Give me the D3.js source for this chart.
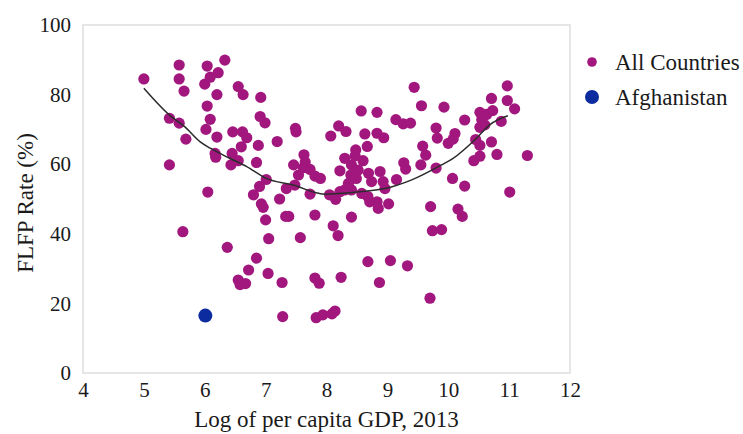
<!DOCTYPE html>
<html>
<head>
<meta charset="utf-8">
<script src="https://cdn.jsdelivr.net/npm/d3@7"></script>
<style>
html,body{margin:0;padding:0;background:#fff;}
svg{display:block;}
text{font-family:"Liberation Serif","Times New Roman",serif;fill:#1a1a1a;}
</style>
</head>
<body>
<svg id="chart" width="743" height="434"></svg>
<script>
// ---- data ----
const countriesX = [
 5.00,5.58,5.58,5.66,5.42,5.58,5.69,5.42,5.64,6.05,6.04,6.33,6.22,6.09,6.00,6.20,6.04,6.09,6.02,6.20,
 6.17,6.18,6.55,6.63,6.46,6.62,6.69,6.60,6.45,6.43,6.55,6.37,6.92,6.91,6.99,6.88,6.85,7.01,6.90,6.80,
 6.93,6.96,7.00,7.05,6.85,6.72,6.55,6.58,6.67,7.04,7.19,
 7.27,7.28,7.33,7.38,7.57,7.81,7.81,7.88,8.11,8.19,8.24,7.83,7.94,8.09,8.14,8.41,8.68,9.05,9.33,8.87,
 9.70,9.74,9.89,10.23,9.71,10.16,11.01,10.27,7.23,7.34,7.48,7.73,8.05,8.15,8.22,8.30,8.41,8.58,8.68,8.71,
 8.83,8.85,9.02,8.36,8.96,7.49,7.50,8.07,8.20,8.32,8.57,8.83,8.63,8.83,8.94,9.14,9.26,9.38,8.67,8.48,
 8.47,8.30,8.60,8.41,8.52,8.22,8.40,8.49,8.69,8.74,8.88,8.93,9.15,9.27,9.30,7.63,7.65,7.46,7.62,7.73,
 7.81,7.90,7.54,
 9.44,9.56,9.93,9.80,9.82,10.00,10.11,10.08,10.27,9.58,9.63,9.55,9.80,10.07,10.52,10.63,10.73,10.71,10.97,10.97,
 11.09,10.87,10.55,10.60,10.52,10.45,10.52,10.71,10.52,10.42,10.80,11.30
];
const countriesY = [
 84.5,88.5,84.5,81.0,73.2,71.8,67.2,59.8,40.6,52.0,88.2,89.9,86.3,85.0,83.0,80.0,76.7,72.9,70.0,67.8,
 63.1,62.0,82.3,80.0,69.3,69.3,67.6,65.0,63.1,59.8,61.0,36.1,79.2,73.7,71.9,65.4,60.5,55.6,53.6,51.2,
 48.6,47.6,44.0,38.6,33.0,29.6,26.7,25.4,25.7,28.6,66.5,
 26.0,16.2,45.0,45.0,38.9,45.4,27.3,25.8,42.3,39.5,27.5,15.9,16.7,17.0,17.8,44.8,32.0,32.3,30.8,26.0,
 21.5,40.9,41.2,45.0,47.8,47.1,52.0,53.7,50.0,53.0,54.0,51.4,51.2,49.9,52.1,52.6,52.6,51.6,50.7,49.2,
 49.2,47.3,48.6,54.5,53.0,70.3,69.3,68.1,71.0,69.4,75.3,74.9,68.7,68.9,67.6,72.8,71.6,71.8,65.1,64.1,
 62.4,61.7,61.0,59.8,58.3,58.1,56.9,55.9,57.4,55.0,57.9,55.0,55.6,60.4,58.6,62.7,60.6,59.8,59.0,58.5,
 56.6,55.9,56.9,
 82.1,76.8,76.4,70.4,67.5,66.0,68.8,67.2,72.7,65.2,62.6,59.8,58.9,55.9,74.9,74.3,75.4,78.9,82.5,78.3,
 75.9,72.3,72.8,71.3,70.6,67.1,65.4,66.4,62.3,61.0,62.8,62.5
];
const afghanX = [6.01];
const afghanY = [16.5];
const fitX = [5.0,5.42,5.67,5.92,6.09,6.41,6.69,7.0,7.45,7.97,8.5,8.96,9.4,9.89,10.08,10.46,10.68,10.98];
const fitY = [81.8,74.1,70.8,66.5,64.6,61.7,59.3,56.0,54.0,51.4,52.0,53.0,55.5,59.8,61.7,67.4,71.3,73.9];
const xTicks = [4,5,6,7,8,9,10,11,12];
const yTicks = [0,20,40,60,80,100];
const legendLabels = ["All Countries","Afghanistan"];
const colors = ["#a2177e","#0b2b9f"];

// ---- drawing ----
const svg = d3.select("#chart");
const x = d3.scaleLinear().domain([4,12]).range([83,570]);
const y = d3.scaleLinear().domain([0,100]).range([373,25]);

// plot frame
svg.append("rect")
  .attr("x", x(4)).attr("y", y(100))
  .attr("width", x(12)-x(4)).attr("height", y(0)-y(100))
  .attr("fill","none").attr("stroke","#d9d9d9").attr("stroke-width",1.3);

// axes
const xAxis = svg.append("g").attr("transform",`translate(0,${y(0)})`)
  .call(d3.axisBottom(x).tickValues(xTicks).tickSize(0).tickPadding(9).tickFormat(d3.format("d")));
const yAxis = svg.append("g").attr("transform",`translate(${x(4)},0)`)
  .call(d3.axisLeft(y).tickValues(yTicks).tickSize(0).tickPadding(12).tickFormat(d3.format("d")));
[xAxis,yAxis].forEach(a=>{
  a.select(".domain").remove();
  a.selectAll("text").attr("font-family","Liberation Serif, Times New Roman, serif")
    .attr("font-size",21).attr("fill","#1a1a1a");
});

// axis titles
svg.append("text")
  .attr("x",(x(4)+x(12))/2).attr("y",427)
  .attr("text-anchor","middle").attr("font-size",23)
  .text("Log of per capita GDP, 2013");
svg.append("text")
  .attr("transform",`translate(33,${(y(0)+y(100))/2 + 4}) rotate(-90)`)
  .attr("text-anchor","middle").attr("font-size",23)
  .text("FLFP Rate (%)");

// points
const pts = countriesX.map((d,i)=>({x:d,y:countriesY[i]}));
svg.append("g").selectAll("circle").data(pts).join("circle")
  .attr("cx",d=>x(d.x)).attr("cy",d=>y(d.y)).attr("r",5.6)
  .attr("fill",colors[0]);

// fitted curve
const fit = fitX.map((d,i)=>[d,fitY[i]]);
svg.append("path").datum(fit)
  .attr("d", d3.line().x(d=>x(d[0])).y(d=>y(d[1])).curve(d3.curveMonotoneX))
  .attr("fill","none").attr("stroke","#2b2b2b").attr("stroke-width",1.5);

// Afghanistan
svg.append("g").selectAll("circle").data(afghanX.map((d,i)=>({x:d,y:afghanY[i]}))).join("circle")
  .attr("cx",d=>x(d.x)).attr("cy",d=>y(d.y)).attr("r",7)
  .attr("fill",colors[1]);

// legend
const leg = svg.append("g");
const legR = [4.8,7];
legendLabels.forEach((lab,i)=>{
  const cy = 62 + i*35;
  leg.append("circle").attr("cx",592).attr("cy",cy).attr("r",legR[i]).attr("fill",colors[i]);
  leg.append("text").attr("x",615).attr("y",cy).attr("dy","0.35em")
    .attr("font-size",23).text(lab);
});
</script>
</body>
</html>
